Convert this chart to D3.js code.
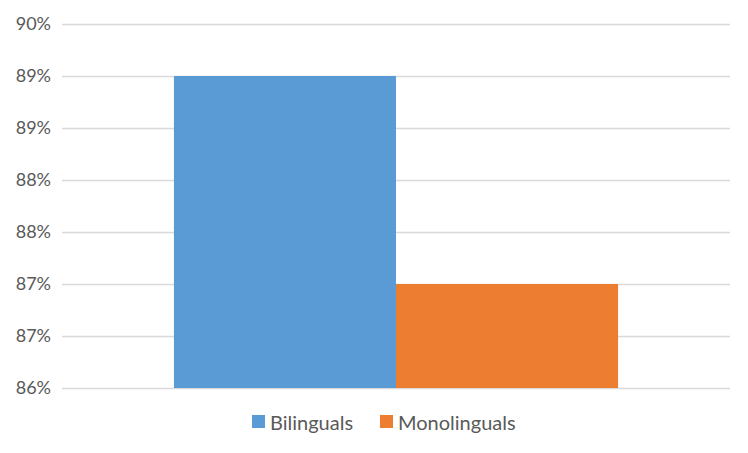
<!DOCTYPE html>
<html>
<head>
<meta charset="utf-8">
<script src="https://cdn.jsdelivr.net/npm/d3@7"></script>
<style>
  html, body { margin: 0; padding: 0; background: #fff; }
  svg { display: block; font-family: Lato, "Open Sans", sans-serif; }
</style>
</head>
<body>
<svg id="chart" width="748" height="453"></svg>
<script>
// Share of correct answers per group
const categories = ["Score"];
const seriesNames = ["Bilinguals", "Monolinguals"];
const seriesValues = [0.89, 0.87];
const seriesColors = ["#5b9bd5", "#ed7d31"];

// Axis ticks every half point, labelled as whole percents
const tickValues = [0.86, 0.865, 0.87, 0.875, 0.88, 0.885, 0.89, 0.895];
const tickLabels = ["86%", "87%", "87%", "88%", "88%", "89%", "89%", "90%"];

const svg = d3.select("#chart");
const margin = { top: 24, right: 18, bottom: 65, left: 62 };
const width = 748 - margin.left - margin.right;
const height = 453 - margin.top - margin.bottom;

const g = svg.append("g").attr("transform", `translate(${margin.left},${margin.top})`);

const y = d3.scaleLinear().domain([0.86, 0.895]).range([height, 0]);
const x0 = d3.scaleBand().domain(categories).range([0, width]).paddingInner(0).paddingOuter(0.252);
const x1 = d3.scaleBand().domain(seriesNames).range([0, x0.bandwidth()]).padding(0);

// Gridlines
g.append("g")
  .selectAll("line")
  .data(tickValues)
  .join("line")
  .attr("x1", 0)
  .attr("x2", width)
  .attr("y1", d => Math.round(y(d)) + 0.5)
  .attr("y2", d => Math.round(y(d)) + 0.5)
  .attr("stroke", "#d9d9d9")
  .attr("stroke-width", 1.3);

// Y axis labels
const yAxis = d3.axisLeft(y)
  .tickValues(tickValues)
  .tickFormat((d, i) => tickLabels[i])
  .tickSize(0)
  .tickPadding(11);

g.append("g")
  .call(yAxis)
  .call(a => a.select(".domain").remove())
  .call(a => a.selectAll("text")
    .attr("fill", "#595959")
    .attr("font-size", 18)
    .attr("font-family", "Lato, 'Open Sans', sans-serif"));

// Bars
const cat = g.append("g")
  .selectAll("g")
  .data(categories)
  .join("g")
  .attr("transform", d => `translate(${x0(d)},0)`);

cat.selectAll("rect")
  .data(() => seriesNames.map((s, i) => ({ name: s, value: seriesValues[i], color: seriesColors[i] })))
  .join("rect")
  .attr("x", d => x1(d.name))
  .attr("width", x1.bandwidth())
  .attr("y", d => y(d.value))
  .attr("height", d => y(0.86) - y(d.value))
  .attr("fill", d => d.color);

// Legend
const legend = svg.append("g").attr("transform", "translate(252,415)");
const items = [
  { name: seriesNames[0], color: seriesColors[0], x: 0 },
  { name: seriesNames[1], color: seriesColors[1], x: 128 }
];
const li = legend.selectAll("g")
  .data(items)
  .join("g")
  .attr("transform", d => `translate(${d.x},0)`);
li.append("rect")
  .attr("width", 13)
  .attr("height", 13)
  .attr("fill", d => d.color);
li.append("text")
  .attr("x", 18)
  .attr("y", 8)
  .attr("dy", "0.35em")
  .attr("fill", "#595959")
  .attr("font-size", 20)
  .text(d => d.name);
</script>
</body>
</html>
